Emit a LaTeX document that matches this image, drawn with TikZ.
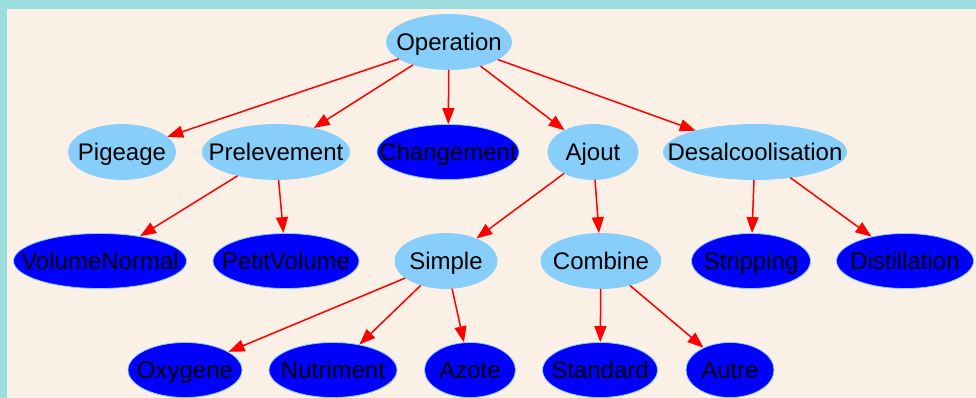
\documentclass[tikz,border=0pt]{standalone}
\usepackage{fontspec}
\setmainfont{Liberation Sans}
\usetikzlibrary{shapes.geometric,arrows.meta}
\definecolor{frame}{RGB}{155,220,220}
\definecolor{linenbg}{RGB}{250,240,230}
\definecolor{skyblue}{RGB}{135,206,250}
\definecolor{deepblue}{RGB}{0,0,255}

\begin{document}
\begin{tikzpicture}[x=1pt,y=-1pt, every node/.style={ellipse, inner sep=0pt, minimum height=55pt, text height=17pt, text depth=0pt, draw=skyblue, line width=0.8pt, font=\fontsize{24}{28}\selectfont},
  light/.style={fill=skyblue}, dark/.style={fill=deepblue},
  edge/.style={red, line width=1.5pt, -{Triangle[length=16pt,width=12pt]}}]
\useasboundingbox (0,0) rectangle (976,398);
\fill[linenbg] (0,0) rectangle (976,398);
\fill[frame] (0,0) rectangle (976,9);
\fill[frame] (0,0) rectangle (7,398);
% top
\node[light, minimum width=125pt] (op) at (449,42) {\makebox[0pt]{Operation}};
% second row
\node[light, minimum width=107pt] (pig) at (122,152) {\makebox[0pt]{Pigeage}};
\node[light, minimum width=147pt] (prel) at (276,152) {\makebox[0pt]{Prelevement}};
\node[dark, minimum width=142pt] (chg) at (448,152) {\makebox[0pt]{Changement}};
\node[light, minimum width=90pt] (ajout) at (593,152) {\makebox[0pt]{Ajout}};
\node[light, minimum width=183pt] (desal) at (755,152) {\makebox[0pt]{Desalcoolisation}};
% third row
\node[dark, minimum width=173pt] (vn) at (100,261) {\makebox[0pt]{VolumeNormal}};
\node[dark, minimum width=146pt] (pv) at (286,261) {\makebox[0pt]{PetitVolume}};
\node[light, minimum width=102pt] (simple) at (446,261) {\makebox[0pt]{Simple}};
\node[light, minimum width=120pt] (comb) at (601,261) {\makebox[0pt]{Combine}};
\node[dark, minimum width=119pt] (strip) at (751,261) {\makebox[0pt]{Stripping}};
\node[dark, minimum width=137pt] (dist) at (905,261) {\makebox[0pt]{Distillation}};
% bottom row
\node[dark, minimum width=114pt] (oxy) at (185,370) {\makebox[0pt]{Oxygene}};
\node[dark, minimum width=128pt] (nutr) at (333,370) {\makebox[0pt]{Nutriment}};
\node[dark, minimum width=91pt] (azote) at (470,370) {\makebox[0pt]{Azote}};
\node[dark, minimum width=115pt] (std) at (600,370) {\makebox[0pt]{Standard}};
\node[dark, minimum width=88pt] (autre) at (730,370) {\makebox[0pt]{Autre}};
\foreach \a/\b in {op/pig, op/prel, op/chg, op/ajout, op/desal, prel/vn, prel/pv, ajout/simple, ajout/comb,
  desal/strip, desal/dist, simple/oxy, simple/nutr, simple/azote, comb/std, comb/autre}
  \draw[edge] (\a) -- (\b);
\end{tikzpicture}
\end{document}
